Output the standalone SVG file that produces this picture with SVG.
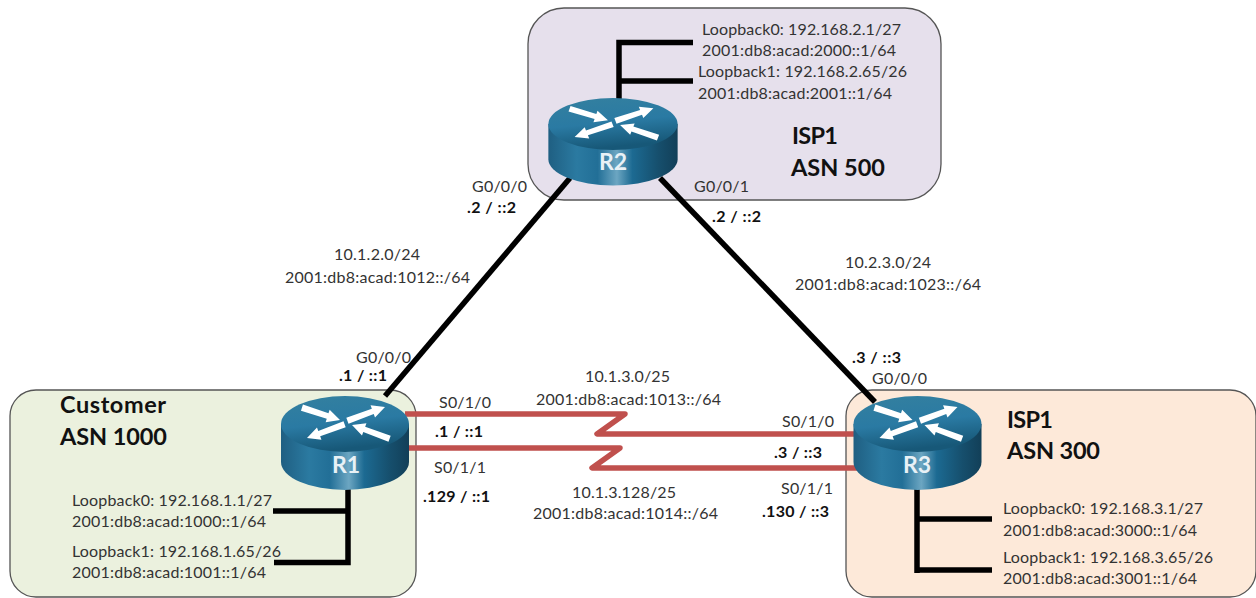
<svg xmlns="http://www.w3.org/2000/svg" width="1256" height="598" viewBox="0 0 1256 598">
<style>
text{font-family:Lato,"Open Sans","Liberation Sans",sans-serif}
.t{font-size:16px;fill:#333}
.b{font-size:16px;font-weight:700;fill:#111}
.h{font-size:23.500px;font-weight:700;fill:#111}
.r{font-size:23px;font-weight:700;fill:#e8f1f6;text-anchor:middle}
.zone{stroke:#555;stroke-width:1.300}
.k{fill:none;stroke:#000;stroke-width:5.500}
.s{fill:none;stroke:#c0504d;stroke-width:5.500;stroke-linejoin:round}
</style>
<defs>
<linearGradient id="side" x1="0" x2="1" y1="0" y2="0">
<stop offset="0" stop-color="#1f5f82"/><stop offset=".22" stop-color="#2b7aa1"/><stop offset=".38" stop-color="#226f97"/><stop offset=".53" stop-color="#6ca6c2"/><stop offset=".65" stop-color="#1c6a92"/><stop offset=".85" stop-color="#164f6d"/><stop offset="1" stop-color="#123f58"/>
</linearGradient>
<linearGradient id="top" x1="0" x2="0.25" y1="0" y2="1">
<stop offset="0" stop-color="#34809f"/><stop offset=".55" stop-color="#2a7aa3"/><stop offset="1" stop-color="#175878"/>
</linearGradient>
<polygon id="arrow" points="-40,-3.200 -13,-2.800 -13,-6.500 0,0 -13,6.500 -13,2.800 -40,3.200" fill="#fff"/>
<g id="router">
<path d="M-64,0V38A64,28 0 0 0 64,38V0Z" fill="url(#side)"/>
<ellipse cx="0" cy="0" rx="64" ry="28" fill="url(#top)"/>
<use href="#arrow" transform="translate(-5,-4) rotate(18)"/>
<use href="#arrow" transform="translate(40,-17) rotate(-20)"/>
<use href="#arrow" transform="translate(-38,14) rotate(160)"/>
<use href="#arrow" transform="translate(7,1) rotate(200)"/>
</g>
</defs>
<g id="zones">
<rect id="zone-isp500" class="zone" x="528" y="8" width="413" height="192" rx="36" fill="#e6e0ec"/>
<rect id="zone-customer" class="zone" x="10" y="390" width="406" height="207" rx="26" fill="#ebf1de"/>
<rect id="zone-isp300" class="zone" x="846" y="390" width="410" height="207" rx="26" fill="#fde9d9"/>
</g>
<g id="connectors">
<path class="k" d="M570,178L385,396"/>
<path class="k" d="M660,178L875,402"/>
<path class="k" d="M619,100V42.500H693M619,81H693"/>
<path class="k" d="M348,486V562.500H274M348,511H273"/>
<path class="k" d="M917,486V573M917,519H992M917,570H992"/>
<path class="s" d="M405,414H625L597,434H857"/>
<path class="s" d="M405,448H620L592,468H857"/>
</g>
<g id="R1"><use href="#router" transform="translate(345,424)"/><text class="r" x="346" y="473">R1</text></g>
<g id="R2"><use href="#router" transform="translate(613,124) scale(1.010,.930)"/><text class="r" x="613" y="170">R2</text></g>
<g id="R3"><use href="#router" transform="translate(917.500,424)"/><text class="r" x="917" y="473">R3</text></g>
<g id="labels">
<text class="t" x="702" y="35" textLength="199">Loopback0: 192.168.2.1/27</text>
<text class="t" x="702" y="56" textLength="194">2001:db8:acad:2000::1/64</text>
<text class="t" x="698" y="77" textLength="209">Loopback1: 192.168.2.65/26</text>
<text class="t" x="698" y="99" textLength="194">2001:db8:acad:2001::1/64</text>
<text class="h" x="792" y="144" textLength="46">ISP1</text>
<text class="h" x="791" y="176" textLength="94">ASN 500</text>
<text class="t" x="694" y="192" textLength="55">G0/0/1</text>
<text class="b" x="712" y="222" textLength="49">.2 / ::2</text>
<text class="t" x="472" y="192" textLength="55">G0/0/0</text>
<text class="b" x="467" y="213" textLength="49">.2 / ::2</text>
<text class="t" x="334" y="260" textLength="86">10.1.2.0/24</text>
<text class="t" x="285" y="283" textLength="185">2001:db8:acad:1012::/64</text>
<text class="t" x="845" y="268" textLength="86">10.2.3.0/24</text>
<text class="t" x="795" y="290" textLength="186">2001:db8:acad:1023::/64</text>
<text class="b" x="852" y="363" textLength="49">.3 / ::3</text>
<text class="t" x="872" y="384" textLength="55">G0/0/0</text>
<text class="t" x="356" y="363" textLength="55">G0/0/0</text>
<text class="b" x="339" y="381" textLength="48">.1 / ::1</text>
<text class="t" x="585" y="382" textLength="85">10.1.3.0/25</text>
<text class="t" x="536" y="405" textLength="185">2001:db8:acad:1013::/64</text>
<text class="t" x="439" y="408" textLength="52">S0/1/0</text>
<text class="b" x="435" y="437" textLength="48">.1 / ::1</text>
<text class="t" x="434" y="473" textLength="52">S0/1/1</text>
<text class="b" x="423" y="502" textLength="67">.129 / ::1</text>
<text class="t" x="572" y="498" textLength="104">10.1.3.128/25</text>
<text class="t" x="533" y="519" textLength="185">2001:db8:acad:1014::/64</text>
<text class="t" x="782" y="427" textLength="52">S0/1/0</text>
<text class="b" x="774" y="458" textLength="48">.3 / ::3</text>
<text class="t" x="781" y="494" textLength="52">S0/1/1</text>
<text class="b" x="762" y="517" textLength="67">.130 / ::3</text>
<text class="h" x="60" y="413" textLength="106">Customer</text>
<text class="h" x="60" y="445" textLength="107">ASN 1000</text>
<text class="t" x="72" y="506" textLength="200">Loopback0: 192.168.1.1/27</text>
<text class="t" x="72" y="527" textLength="194">2001:db8:acad:1000::1/64</text>
<text class="t" x="72" y="557" textLength="209">Loopback1: 192.168.1.65/26</text>
<text class="t" x="72" y="578" textLength="194">2001:db8:acad:1001::1/64</text>
<text class="h" x="1007" y="428" textLength="46">ISP1</text>
<text class="h" x="1007" y="459" textLength="93">ASN 300</text>
<text class="t" x="1003" y="514" textLength="200">Loopback0: 192.168.3.1/27</text>
<text class="t" x="1003" y="536" textLength="194">2001:db8:acad:3000::1/64</text>
<text class="t" x="1003" y="563" textLength="210">Loopback1: 192.168.3.65/26</text>
<text class="t" x="1003" y="584" textLength="194">2001:db8:acad:3001::1/64</text>
</g>
</svg>
